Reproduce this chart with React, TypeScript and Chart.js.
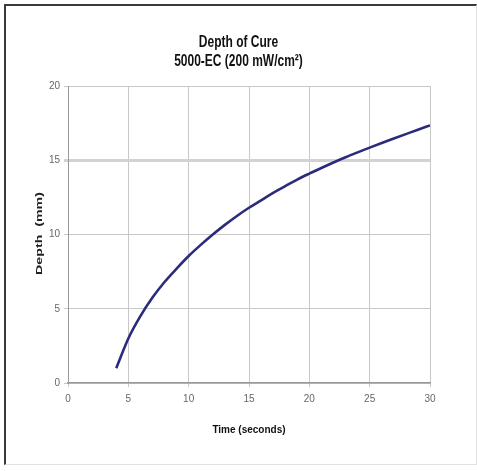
import React, { useEffect, useRef } from "react";
import { Chart, registerables } from "chart.js";

Chart.register(...registerables);

const timeSeconds = [4, 5, 6, 7, 8, 9, 10, 11, 12, 13, 14, 15, 16, 17, 18, 19, 20, 21, 22, 23, 24, 25, 26, 27, 28, 29, 30];
const depthMm = [1.0, 3.0, 4.5, 5.75, 6.8, 7.7, 8.55, 9.3, 10.0, 10.65, 11.25, 11.8, 12.3, 12.8, 13.25, 13.7, 14.1, 14.48, 14.85, 15.2, 15.53, 15.85, 16.16, 16.46, 16.76, 17.06, 17.35];
const titleLines = ["Depth of Cure", "5000-EC (200 mW/cm\u00B2)"];
const xTitle = "Time (seconds)";
const yTitle = "Depth  (mm)";

const FONT = "'Liberation Sans', Arial, sans-serif";

const textPlugin = {
  id: "stretchedText",
  afterDraw(chart: any) {
    const ctx = chart.ctx as CanvasRenderingContext2D;
    const area = chart.chartArea;
    ctx.save();
    ctx.fillStyle = "#111";
    ctx.textAlign = "center";
    ctx.textBaseline = "middle";
    // chart title, slightly stretched vertically like the reference
    const cx = chart.width / 2;
    const offsets = [43.5, 24];
    titleLines.forEach((line, i) => {
      ctx.save();
      ctx.translate(cx, area.top - offsets[i]);
      ctx.scale(1, 1.3);
      ctx.font = `bold 12px ${FONT}`;
      ctx.fillText(line, 0, 0);
      ctx.restore();
    });
    // y axis title, rotated and stretched along its length
    ctx.save();
    ctx.fillStyle = "#222";
    ctx.translate(area.left - 28, (area.top + area.bottom) / 2 - 1);
    ctx.rotate(-Math.PI / 2);
    ctx.scale(1.58, 1);
    ctx.font = `bold 9px ${FONT}`;
    ctx.fillText(yTitle, 0, 0);
    ctx.restore();
    ctx.restore();
  },
};

export default function App() {
  const ref = useRef<HTMLCanvasElement | null>(null);
  useEffect(() => {
    if (!ref.current) return;
    const chart = new Chart(ref.current, {
      type: "line",
      data: {
        datasets: [
          {
            data: timeSeconds.map((t, i) => ({ x: t, y: depthMm[i] })),
            borderColor: "#2b2b7c",
            borderWidth: 2.6,
            pointRadius: 0,
            cubicInterpolationMode: "monotone",
            fill: false,
          },
        ],
      },
      options: {
        animation: false,
        responsive: false,
        maintainAspectRatio: false,
        layout: { padding: { left: 0, right: 47, top: 86, bottom: 0 } },
        plugins: {
          legend: { display: false },
          tooltip: { enabled: false },
          title: { display: false },
        },
        scales: {
          x: {
            type: "linear",
            min: 0,
            max: 30,
            afterFit: (s: any) => {
              s.height = 88;
            },
            ticks: {
              stepSize: 5,
              color: "#666",
              font: { family: FONT, size: 10 },
              padding: 6,
              maxRotation: 0,
            },
            grid: {
              color: "#c8c8c8",
              lineWidth: 1,
              tickLength: 4,
            },
            border: { color: "#999", width: 1.5 },
            title: {
              display: true,
              text: xTitle,
              color: "#111",
              font: { family: FONT, size: 10, weight: "bold", lineHeight: 1.2 },
              padding: { top: 0, bottom: 35 },
            },
          },
          y: {
            type: "linear",
            min: 0,
            max: 20,
            afterFit: (s: any) => {
              s.width = 68;
            },
            ticks: {
              stepSize: 5,
              color: "#666",
              font: { family: FONT, size: 10 },
              padding: 4,
            },
            grid: {
              color: (c: any) => (c.tick && c.tick.value === 15 ? "#d2d2d2" : "#c8c8c8"),
              lineWidth: (c: any) => (c.tick && c.tick.value === 15 ? 3 : 1),
              tickLength: 4,
            },
            border: { color: "#999", width: 1 },
            title: { display: false },
          },
        },
      },
      plugins: [textPlugin],
    });
    return () => chart.destroy();
  }, []);

  return (
    <div style={{ position: "fixed", left: 0, top: 0, width: 477, height: 471, background: "#fff" }}>
      <canvas ref={ref} width={477} height={471} style={{ width: 477, height: 471, display: "block" }} />
      <div
        style={{
          position: "absolute",
          left: 4,
          top: 4,
          width: 470,
          height: 458,
          borderTop: "2px solid #3a3a3a",
          borderLeft: "2px solid #3a3a3a",
          borderRight: "1px solid #e2e2e2",
          borderBottom: "1px solid #e2e2e2",
          pointerEvents: "none",
        }}
      />
    </div>
  );
}
